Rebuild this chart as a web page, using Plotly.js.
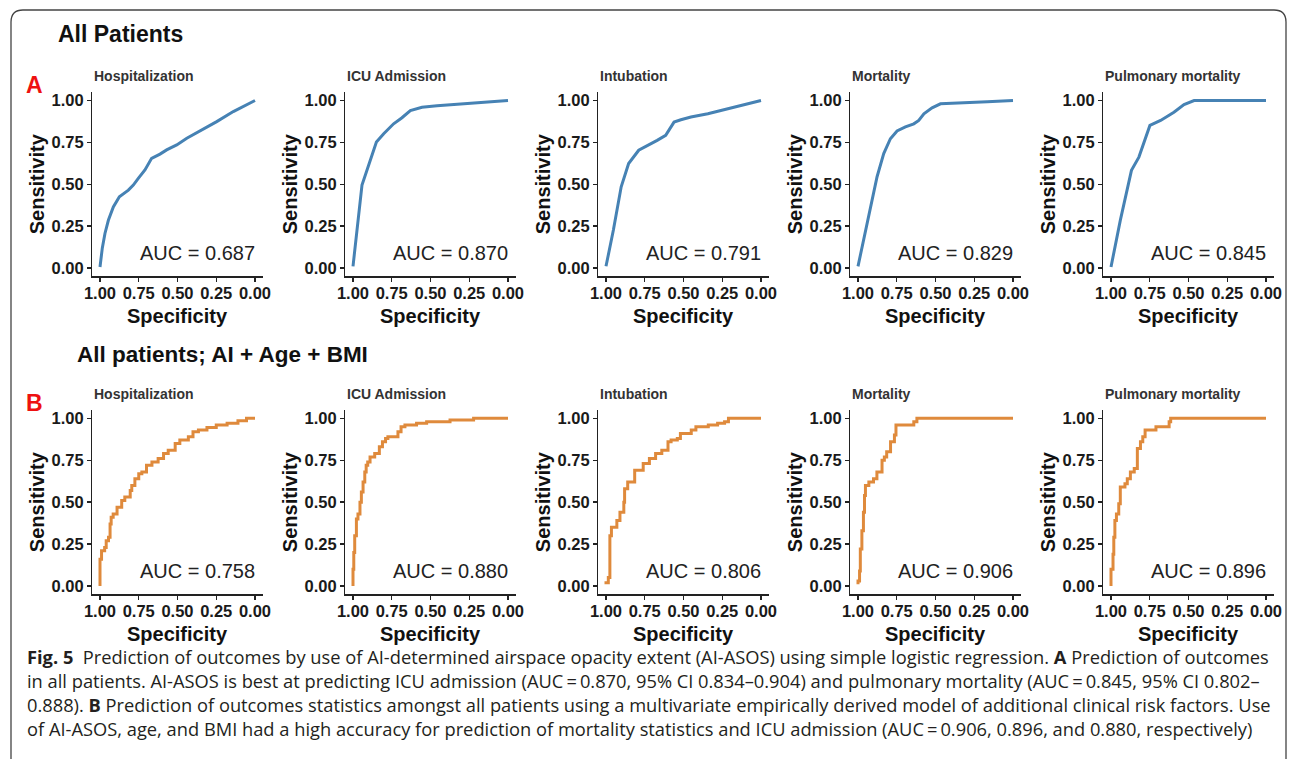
<!DOCTYPE html>
<html><head><meta charset="utf-8">
<script src="https://cdn.plot.ly/plotly-3.0.1.min.js"></script>
<style>html,body{margin:0;padding:0;background:#fff;} #chart{width:1295px;height:759px;}</style>
</head><body><div id="chart"></div>
<script>
// ---------- data ----------
const outcomes = ['Hospitalization', 'ICU Admission', 'Intubation', 'Mortality', 'Pulmonary mortality'];
const aucA = ['0.687', '0.870', '0.791', '0.829', '0.845'];
const aucB = ['0.758', '0.880', '0.806', '0.906', '0.896'];
const tickVals = [0, 0.25, 0.5, 0.75, 1];
const tickText = ['0.00', '0.25', '0.50', '0.75', '1.00'];

// Row A: AI-ASOS only (specificity, sensitivity)
const specA_hosp = [1.0, 0.985, 0.968, 0.946, 0.914, 0.875, 0.817, 0.785, 0.753, 0.71, 0.667, 0.613, 0.57, 0.505, 0.44, 0.355, 0.247, 0.14, 0.0];
const sensA_hosp = [0.006, 0.12, 0.206, 0.285, 0.365, 0.425, 0.465, 0.495, 0.535, 0.585, 0.655, 0.68, 0.705, 0.735, 0.775, 0.818, 0.874, 0.934, 1.0];
const specA_icu = [1.0, 0.978, 0.942, 0.849, 0.802, 0.738, 0.684, 0.63, 0.555, 0.458, 0.35, 0.2, 0.071, 0.0];
const sensA_icu = [0.01, 0.188, 0.495, 0.752, 0.802, 0.861, 0.897, 0.94, 0.96, 0.968, 0.976, 0.986, 0.994, 1.0];
const specA_intub = [1.0, 0.952, 0.902, 0.854, 0.789, 0.724, 0.67, 0.615, 0.59, 0.561, 0.517, 0.452, 0.343, 0.213, 0.083, 0.0];
const sensA_intub = [0.01, 0.228, 0.485, 0.624, 0.703, 0.733, 0.762, 0.792, 0.83, 0.871, 0.885, 0.901, 0.921, 0.95, 0.98, 1.0];
const specA_mort = [1.0, 0.963, 0.92, 0.877, 0.834, 0.791, 0.748, 0.694, 0.64, 0.608, 0.575, 0.522, 0.468, 0.317, 0.166, 0.0];
const sensA_mort = [0.01, 0.168, 0.366, 0.545, 0.683, 0.772, 0.818, 0.842, 0.861, 0.881, 0.921, 0.956, 0.98, 0.984, 0.992, 1.0];
const specA_pulm = [1.0, 0.94, 0.868, 0.82, 0.749, 0.68, 0.594, 0.529, 0.464, 0.0];
const sensA_pulm = [0.006, 0.284, 0.583, 0.662, 0.851, 0.881, 0.93, 0.976, 1.0, 1.0];

// Row B: AI + Age + BMI (step curves; specificity, sensitivity)
const specB_hosp = [1.0, 0.99, 0.97, 0.96, 0.945, 0.935, 0.928, 0.915, 0.89, 0.86, 0.84, 0.805, 0.795, 0.775, 0.75, 0.73, 0.7, 0.665, 0.625, 0.59, 0.56, 0.515, 0.485, 0.43, 0.4, 0.365, 0.31, 0.25, 0.18, 0.11, 0.055, 0.0];
const sensB_hosp = [0.0, 0.16, 0.21, 0.23, 0.27, 0.29, 0.37, 0.41, 0.43, 0.47, 0.51, 0.53, 0.57, 0.6, 0.64, 0.67, 0.68, 0.72, 0.74, 0.76, 0.79, 0.81, 0.85, 0.87, 0.89, 0.92, 0.93, 0.945, 0.96, 0.97, 0.985, 1.0];
const specB_icu = [1.0, 0.995, 0.989, 0.978, 0.968, 0.955, 0.946, 0.935, 0.924, 0.915, 0.905, 0.89, 0.86, 0.83, 0.81, 0.79, 0.775, 0.71, 0.69, 0.665, 0.59, 0.525, 0.374, 0.222, 0.0];
const sensB_icu = [0.0, 0.1, 0.2, 0.3, 0.4, 0.43, 0.5, 0.56, 0.62, 0.68, 0.72, 0.74, 0.77, 0.79, 0.83, 0.86, 0.88, 0.89, 0.92, 0.95, 0.96, 0.97, 0.98, 0.99, 1.0];
const specB_intub = [1.0, 0.985, 0.975, 0.965, 0.93, 0.91, 0.885, 0.88, 0.86, 0.815, 0.76, 0.72, 0.68, 0.64, 0.6, 0.58, 0.54, 0.52, 0.45, 0.42, 0.34, 0.28, 0.235, 0.21, 0.0];
const sensB_intub = [0.01, 0.02, 0.05, 0.3, 0.35, 0.39, 0.44, 0.5, 0.58, 0.62, 0.69, 0.73, 0.76, 0.79, 0.81, 0.86, 0.87, 0.88, 0.91, 0.93, 0.95, 0.96, 0.97, 0.98, 1.0];
const specB_mort = [1.0, 0.99, 0.985, 0.975, 0.965, 0.958, 0.952, 0.93, 0.9, 0.878, 0.845, 0.83, 0.815, 0.79, 0.765, 0.755, 0.64, 0.62, 0.0];
const sensB_mort = [0.01, 0.03, 0.09, 0.22, 0.33, 0.44, 0.54, 0.6, 0.62, 0.64, 0.68, 0.75, 0.77, 0.8, 0.86, 0.9, 0.96, 0.98, 1.0];
const specB_pulm = [1.0, 0.987, 0.982, 0.975, 0.965, 0.95, 0.94, 0.91, 0.895, 0.875, 0.85, 0.83, 0.81, 0.795, 0.78, 0.71, 0.625, 0.615, 0.0];
const sensB_pulm = [0.0, 0.1, 0.19, 0.29, 0.39, 0.43, 0.49, 0.59, 0.61, 0.64, 0.68, 0.7, 0.82, 0.86, 0.89, 0.93, 0.95, 0.98, 1.0];

const rowA = [[specA_hosp, sensA_hosp], [specA_icu, sensA_icu], [specA_intub, sensA_intub], [specA_mort, sensA_mort], [specA_pulm, sensA_pulm]];
const rowB = [[specB_hosp, sensB_hosp], [specB_icu, sensB_icu], [specB_intub, sensB_intub], [specB_mort, sensB_mort], [specB_pulm, sensB_pulm]];

const captionLines = [
  '<b>Fig. 5</b>  Prediction of outcomes by use of AI-determined airspace opacity extent (AI-ASOS) using simple logistic regression. <b>A</b> Prediction of outcomes',
  'in all patients. AI-ASOS is best at predicting ICU admission (AUC\u2009=\u20090.870, 95% CI 0.834\u20130.904) and pulmonary mortality (AUC\u2009=\u20090.845, 95% CI 0.802\u2013',
  '0.888). <b>B</b> Prediction of outcomes statistics amongst all patients using a multivariate empirically derived model of additional clinical risk factors. Use',
  'of AI-ASOS, age, and BMI had a high accuracy for prediction of mortality statistics and ICU admission (AUC\u2009=\u20090.906, 0.896, and 0.880, respectively)'
];

// ---------- layout helpers ----------
const W = 1295, H = 759;
const px = v => v / W;
const py = v => 1 - v / H;
const FONT = 'Liberation Sans, Arial, Helvetica, sans-serif';
const colLeft = [100, 353, 606, 858, 1111]; // pixel of specificity = 1
const dataW = 155;
const rows = [{top: 100.5, bot: 268, titleY: 76, xTitleY: 316, color: '#4682B4', shape: 'linear', data: rowA, auc: aucA},
              {top: 418.3, bot: 586, titleY: 394, xTitleY: 634, color: '#DF8A3C', shape: 'vh', data: rowB, auc: aucB}];

const traces = [];
const layout = {
  width: W, height: H,
  margin: {l: 0, r: 0, t: 0, b: 0},
  paper_bgcolor: '#ffffff', plot_bgcolor: '#ffffff',
  showlegend: false, hovermode: false,
  font: {family: FONT, color: '#1a1a1a'},
  annotations: [], shapes: []
};

rows.forEach((row, r) => {
  const h = row.bot - row.top;
  for (let c = 0; c < 5; c++) {
    const n = r * 5 + c + 1;
    const xs = n === 1 ? '' : String(n);
    const xl = colLeft[c];
    traces.push({
      x: row.data[c][0], y: row.data[c][1],
      type: 'scatter', mode: 'lines',
      line: {color: row.color, width: 3, shape: row.shape},
      xaxis: 'x' + xs, yaxis: 'y' + xs
    });
    const axCommon = {
      showline: true, linecolor: '#222', linewidth: 1.3,
      ticks: 'outside', ticklen: 4, tickwidth: 1.3, tickcolor: '#222',
      tickvals: tickVals, ticktext: tickText, tickangle: 0,
      tickfont: {family: FONT, size: 16.5, color: '#1a1a1a', weight: 'bold'},
      showgrid: false, zeroline: false, fixedrange: true
    };
    layout['xaxis' + xs] = Object.assign({}, axCommon, {
      domain: [px(xl - 0.05 * dataW), px(xl + 1.05 * dataW)],
      range: [1.05, -0.05], anchor: 'y' + xs, ticklabelstandoff: -2
    });
    layout['yaxis' + xs] = Object.assign({}, axCommon, {
      domain: [py(row.bot + 0.05 * h), py(row.top - 0.05 * h)],
      range: [-0.05, 1.05], anchor: 'x' + xs
    });
    // subplot title
    layout.annotations.push({text: '<b>' + outcomes[c] + '</b>', xref: 'paper', yref: 'paper',
      x: px(xl - 0.05 * dataW), y: py(row.titleY), xanchor: 'left', yanchor: 'middle', showarrow: false,
      font: {family: FONT, size: 14, color: '#333'}});
    // axis titles
    layout.annotations.push({text: '<b>Sensitivity</b>', xref: 'paper', yref: 'paper',
      x: px(xl - 63), y: py((row.top + row.bot) / 2), xanchor: 'center', yanchor: 'middle', textangle: -90,
      showarrow: false, font: {family: FONT, size: 20, color: '#111'}});
    layout.annotations.push({text: '<b>Specificity</b>', xref: 'paper', yref: 'paper',
      x: px(xl + dataW / 2), y: py(row.xTitleY), xanchor: 'center', yanchor: 'middle',
      showarrow: false, font: {family: FONT, size: 20, color: '#111'}});
    // AUC label
    layout.annotations.push({text: 'AUC = ' + row.auc[c], xref: 'x' + xs, yref: 'y' + xs,
      x: -0.012, y: 0.09, xanchor: 'right', yanchor: 'middle', showarrow: false,
      font: {family: FONT, size: 20, color: '#222'}});
  }
});

// headings
layout.annotations.push({text: '<b>All Patients</b>', xref: 'paper', yref: 'paper', x: px(56), y: py(34.5),
  xanchor: 'left', yanchor: 'middle', showarrow: false, font: {family: FONT, size: 23, color: '#111'}});
layout.annotations.push({text: '<b>A</b>', xref: 'paper', yref: 'paper', x: px(24), y: py(85),
  xanchor: 'left', yanchor: 'middle', showarrow: false, font: {family: FONT, size: 23, color: '#EE1111'}});
layout.annotations.push({text: '<b>All patients; AI + Age + BMI</b>', xref: 'paper', yref: 'paper', x: px(75), y: py(354.5),
  xanchor: 'left', yanchor: 'middle', showarrow: false, font: {family: FONT, size: 22.5, color: '#111'}});
layout.annotations.push({text: '<b>B</b>', xref: 'paper', yref: 'paper', x: px(24), y: py(403),
  xanchor: 'left', yanchor: 'middle', showarrow: false, font: {family: FONT, size: 23, color: '#EE1111'}});

// caption
const capY = [656, 680, 704, 728];
captionLines.forEach((t, i) => {
  layout.annotations.push({text: t, xref: 'paper', yref: 'paper', x: px(25), y: py(capY[i]),
    xanchor: 'left', yanchor: 'middle', showarrow: false, font: {family: 'Open Sans, sans-serif', size: 18.3, color: '#231f20'}});
});

// rounded frame
const L = 11, T = 10, R = 1286, rad = 12;
layout.shapes.push({type: 'path', xref: 'paper', yref: 'paper',
  path: `M ${px(L)},${py(H)} L ${px(L)},${py(T + rad)} Q ${px(L)},${py(T)} ${px(L + rad)},${py(T)} L ${px(R - rad)},${py(T)} Q ${px(R)},${py(T)} ${px(R)},${py(T + rad)} L ${px(R)},${py(H)}`,
  line: {color: '#444', width: 1.3}});

Plotly.newPlot('chart', traces, layout, {staticPlot: true, displayModeBar: false});
</script></body></html>
